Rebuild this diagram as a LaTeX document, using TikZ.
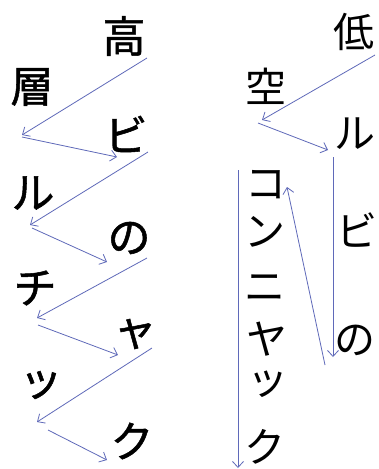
\documentclass[tikz,border=0pt]{standalone}
\usepackage{fontspec}
\newfontfamily\jp{Noto Sans CJK JP}
\newfontfamily\jpb[FakeBold=1.2]{Noto Sans CJK JP}
\usetikzlibrary{arrows.meta}
\definecolor{arr}{RGB}{95,105,185}
\tikzset{
  ch/.style={font=\jp\fontsize{41}{41}\selectfont, inner sep=0pt, anchor=center},
  chb/.style={ch, font=\jpb\fontsize{43}{43}\selectfont},
  link/.style={draw=arr, line width=0.8pt, -{Straight Barb[length=6pt,width=11pt,line width=0.8pt]}}
}
\begin{document}
\begin{tikzpicture}[x=1pt,y=1pt]
\useasboundingbox (0,0) rectangle (379,-469);
\fill[white] (0,0) rectangle (379,-469);
% left column
\node[chb] (t1) at (124,-36) {高};
\node[chb] (t2) at (32,-87) {層};
\node[chb] (t3) at (126,-134) {ビ};
\node[chb] (t4) at (33,-193) {ル};
\node[chb] (t5) at (129,-238) {の};
\node[chb] (t6) at (35,-288) {チ};
\node[chb] (t7) at (135,-334) {ャ};
\node[chb] (t8) at (41,-385) {ッ};
\node[chb] (t9) at (132,-441) {ク};
% right column
\node[ch] (r1) at (354,-32) {低};
\node[ch] (r2) at (266,-86) {空};
\node[ch] (r3) at (355,-134) {ル};
\node[ch] (r4) at (357,-230) {ビ};
\node[ch] (r5) at (355,-340) {の};
\node[ch] (c1) at (266,-185) {コ};
\node[ch] (c2) at (265,-232) {ン};
\node[ch] (c3) at (265,-288) {ニ};
\node[ch] (c4) at (267,-339) {ヤ};
\node[ch] (c5) at (268,-384) {ッ};
\node[ch] (c6) at (265,-447) {ク};
% arrow end points
\coordinate (a1s) at (147,-58);  \coordinate (a1e) at (22,-135);
\coordinate (a2s) at (22,-137);  \coordinate (a2e) at (117,-157);
\coordinate (a3s) at (148,-152); \coordinate (a3e) at (30,-225);
\coordinate (a4s) at (32,-228);  \coordinate (a4e) at (107,-262);
\coordinate (a5s) at (147,-258); \coordinate (a5e) at (37,-318);
\coordinate (a6s) at (38,-325);  \coordinate (a6e) at (118,-355);
\coordinate (a7s) at (152,-348); \coordinate (a7e) at (37,-422);
\coordinate (a8s) at (48,-430);  \coordinate (a8e) at (107,-460);
\coordinate (b1s) at (375,-55);  \coordinate (b1e) at (262,-120);
\coordinate (b2s) at (258,-123); \coordinate (b2e) at (328,-150);
\coordinate (b3s) at (333,-157); \coordinate (b3e) at (333,-357);
\coordinate (b4s) at (325,-365); \coordinate (b4e) at (287,-187);
\coordinate (b5s) at (238,-170); \coordinate (b5e) at (238,-468);
\foreach \p in {a1,a2,a3,a4,a5,a6,a7,a8,b1,b2,b3,b4,b5}
  \draw[link] (\p s) -- (\p e);
\end{tikzpicture}
\end{document}
